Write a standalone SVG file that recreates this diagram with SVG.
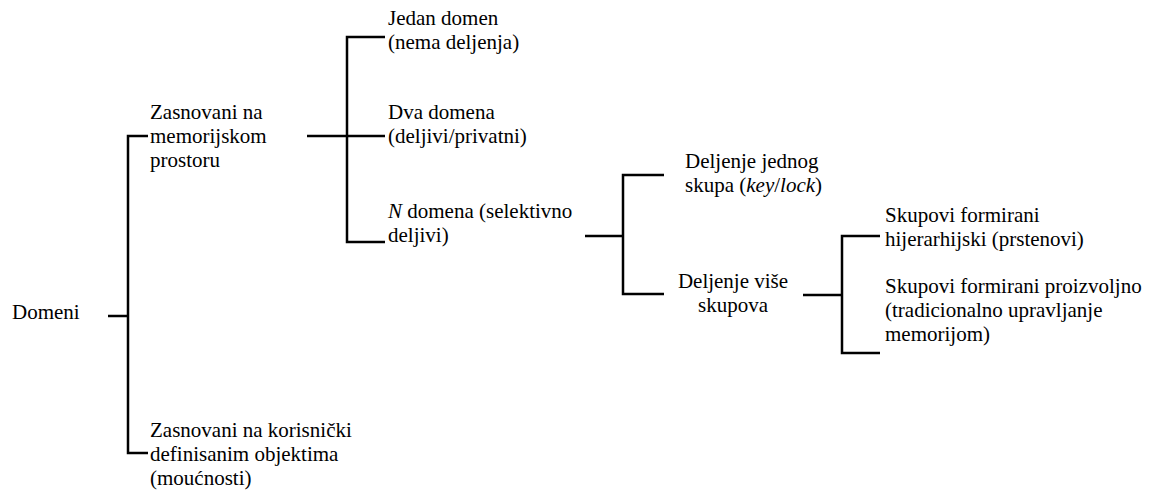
<svg xmlns="http://www.w3.org/2000/svg" width="1152" height="490" viewBox="0 0 1152 490">
  <style>
    .mid { text-anchor: middle; }
    .it { font-style: italic; }
    .conn path { fill: none; stroke: #000; stroke-width: 2.5; }
  </style>
  <rect width="1152" height="490" fill="#fff"/>

  <!-- bracket connectors of the classification tree -->
  <g class="conn" id="connectors">
    <path d="M108,316 H128 M148,136 H128 V453 H148"/>
    <path d="M307,136 H385 M385,37 H347 V242 H385"/>
    <path d="M585,236 H623 M664,175 H623 V294 H664"/>
    <path d="M803,295 H842 M880,236 H842 V353 H880"/>
  </g>

  <g id="n-domeni" font-family="'Liberation Serif', Tinos, 'Times New Roman', serif" font-size="21">
    <text x="12" y="319">Domeni</text>
  </g>
  <g id="n-memorijski" font-family="'Liberation Serif', Tinos, 'Times New Roman', serif" font-size="21">
    <text x="150" y="118.5">Zasnovani na</text>
    <text x="150" y="142.5">memorijskom</text>
    <text x="150" y="166.5">prostoru</text>
  </g>
  <g id="n-objekti" font-family="'Liberation Serif', Tinos, 'Times New Roman', serif" font-size="21">
    <text x="150" y="437">Zasnovani na korisnički</text>
    <text x="150" y="461">definisanim objektima</text>
    <text x="150" y="485">(moućnosti)</text>
  </g>
  <g id="n-jedan" font-family="'Liberation Serif', Tinos, 'Times New Roman', serif" font-size="21">
    <text x="388" y="25">Jedan domen</text>
    <text x="388" y="49">(nema deljenja)</text>
  </g>
  <g id="n-dva" font-family="'Liberation Serif', Tinos, 'Times New Roman', serif" font-size="21">
    <text x="388" y="119">Dva domena</text>
    <text x="388" y="143">(deljivi/privatni)</text>
  </g>
  <g id="n-n" font-family="'Liberation Serif', Tinos, 'Times New Roman', serif" font-size="21">
    <text x="388" y="218"><tspan class="it">N</tspan> domena (selektivno</text>
    <text x="388" y="242">deljivi)</text>
  </g>
  <g id="n-jednog" font-family="'Liberation Serif', Tinos, 'Times New Roman', serif" font-size="21">
    <text x="685" y="168">Deljenje jednog</text>
    <text x="685" y="192">skupa (<tspan class="it">key</tspan>/<tspan class="it">lock</tspan>)</text>
  </g>
  <g id="n-vise" font-family="'Liberation Serif', Tinos, 'Times New Roman', serif" font-size="21">
    <text class="mid" x="733" y="288">Deljenje više</text>
    <text class="mid" x="733" y="312">skupova</text>
  </g>
  <g id="n-prstenovi" font-family="'Liberation Serif', Tinos, 'Times New Roman', serif" font-size="21">
    <text x="885" y="222">Skupovi formirani</text>
    <text x="885" y="246">hijerarhijski (prstenovi)</text>
  </g>
  <g id="n-proizvoljno" font-family="'Liberation Serif', Tinos, 'Times New Roman', serif" font-size="21">
    <text x="885" y="293">Skupovi formirani proizvoljno</text>
    <text x="885" y="317">(tradicionalno upravljanje</text>
    <text x="885" y="341">memorijom)</text>
  </g>
</svg>
